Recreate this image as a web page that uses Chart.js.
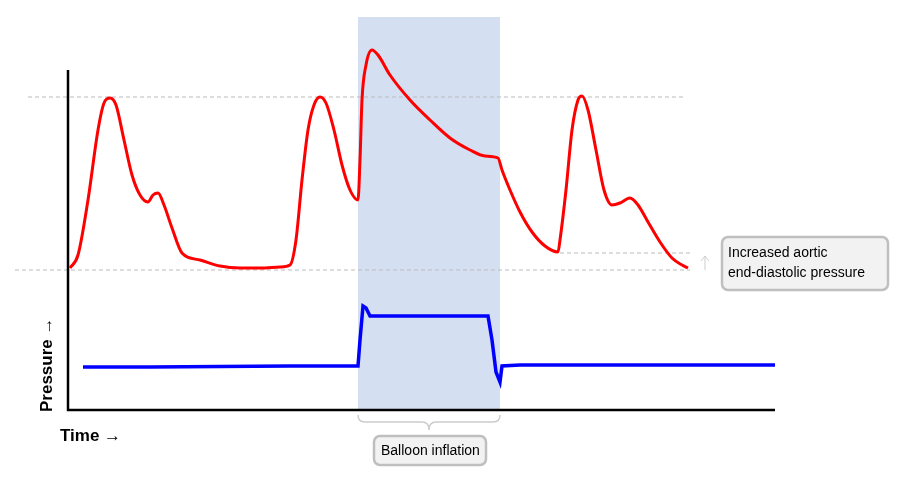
<!DOCTYPE html>
<html><head><meta charset="utf-8">
<script src="https://cdn.jsdelivr.net/npm/chart.js@4/dist/chart.umd.min.js"></script>
<style>body{margin:0;background:#fff}#w{width:905px;height:480px}</style>
</head><body><div id="w"><canvas id="c"></canvas></div>
<script>
// time units (0..707) and pressure units (0..410)
const aorticTime=[2,10,20,30,36,42,48,56,64,72,80,85,90,96,104,114,132,152,172,192,212,222,228,234,240,246,252,258,266,274,282,290,292,294,298,304,310,322,342,362,382,402,417,430,434,442,452,464,477,490,492,498,504,510,514,520,528,536,544,552,562,570,580,592,604,614,620];
const aorticPressure=[142,155,210,280,307,312,305,270,235,215,208,215,217,205,182,157,150,144,142,142,143,145,170,230,280,305,313,307,280,245,220,210,250,310,345,360,355,335,310,290,272,260,254,252,240,220,198,178,164,158,170,220,280,310,314,300,260,220,205,207,212,205,188,168,152,145,142];
const balloonTime=[15,82,222,290,292,295,298,302,332,420,424,428,432,434,452,707];
const balloonPressure=[43,43,44,44,70,104,102,94,94,94,70,38,28,44,45,45];
const inflation=[290,432];
const peakLevel=313, edpLevel=140, edpRaised=157;

const X=t=>t, Y=p=>p;
const deco={id:'deco',
beforeDatasetsDraw(ch){const {ctx}=ch,x=ch.scales.x,y=ch.scales.y;
 ctx.save();
 ctx.fillStyle='rgba(198,212,238,0.75)';
 ctx.fillRect(x.getPixelForValue(inflation[0]),17,x.getPixelForValue(inflation[1])-x.getPixelForValue(inflation[0]),y.getPixelForValue(0)-17);
 ctx.setLineDash([4,3]);ctx.strokeStyle='#bbb';ctx.lineWidth=1;
 let py=y.getPixelForValue(peakLevel);ctx.beginPath();ctx.moveTo(28,py);ctx.lineTo(683,py);ctx.stroke();
 py=y.getPixelForValue(edpLevel);ctx.beginPath();ctx.moveTo(15,py);ctx.lineTo(690,py);ctx.stroke();
 py=y.getPixelForValue(edpRaised);ctx.beginPath();ctx.moveTo(560,py);ctx.lineTo(690,py);ctx.stroke();
 ctx.setLineDash([]);
 ctx.strokeStyle='#000';ctx.lineWidth=2.5;
 const x0=x.getPixelForValue(0),y0=y.getPixelForValue(0);
 ctx.beginPath();ctx.moveTo(x0,70);ctx.lineTo(x0,y0);ctx.lineTo(x.getPixelForValue(707),y0);ctx.stroke();
 ctx.restore();},
afterDraw(ch){const {ctx}=ch;ctx.save();
 ctx.fillStyle='#000';ctx.font='bold 17px Arial, "Liberation Sans"';
 ctx.fillText('Time \u2192',60,441);
 ctx.translate(52,412);ctx.rotate(-Math.PI/2);ctx.fillText('Pressure \u2192',0,0);
 ctx.setTransform(1,0,0,1,0,0);
 // bracket
 ctx.strokeStyle='#ccc';ctx.lineWidth=1.5;
 ctx.beginPath();ctx.moveTo(358,415);ctx.quadraticCurveTo(358,422,365,422);ctx.lineTo(422,422);ctx.quadraticCurveTo(429,422,429,430);
 ctx.quadraticCurveTo(429,422,436,422);ctx.lineTo(493,422);ctx.quadraticCurveTo(500,422,500,415);ctx.stroke();
 function box(x,yy,w,h){ctx.beginPath();ctx.roundRect(x,yy,w,h,6);ctx.fillStyle='#f2f2f2';ctx.fill();ctx.strokeStyle='#bfbfbf';ctx.lineWidth=2.5;ctx.stroke();}
 box(374,436,112,29);box(722,237,166,53);
 ctx.fillStyle='#000';ctx.font='14px Arial, "Liberation Sans"';
 ctx.fillText('Balloon inflation',381,455);
 ctx.fillText('Increased aortic',728,257);ctx.fillText('end-diastolic pressure',728,277);
 ctx.strokeStyle='#ccc';ctx.lineWidth=1;ctx.beginPath();ctx.moveTo(705,270);ctx.lineTo(705,256);ctx.moveTo(701,261);ctx.lineTo(705,256);ctx.lineTo(709,261);ctx.stroke();
 ctx.restore();}};
new Chart(document.getElementById('c'),{type:'line',
data:{datasets:[
 {data:aorticTime.map((t,i)=>({x:X(t),y:Y(aorticPressure[i])})),borderColor:'#f00',borderWidth:3,pointRadius:0,tension:0.4,cubicInterpolationMode:'monotone'},
 {data:balloonTime.map((t,i)=>({x:X(t),y:Y(balloonPressure[i])})),borderColor:'#00f',borderWidth:3.5,pointRadius:0,tension:0}]},
options:{responsive:true,maintainAspectRatio:false,animation:false,
 layout:{padding:{left:68,right:130,top:0,bottom:70}},
 plugins:{legend:{display:false},tooltip:{enabled:false}},
 scales:{x:{type:'linear',min:0,max:707,display:false},y:{min:0,max:410,display:false}}},
plugins:[deco]});
</script></body></html>
